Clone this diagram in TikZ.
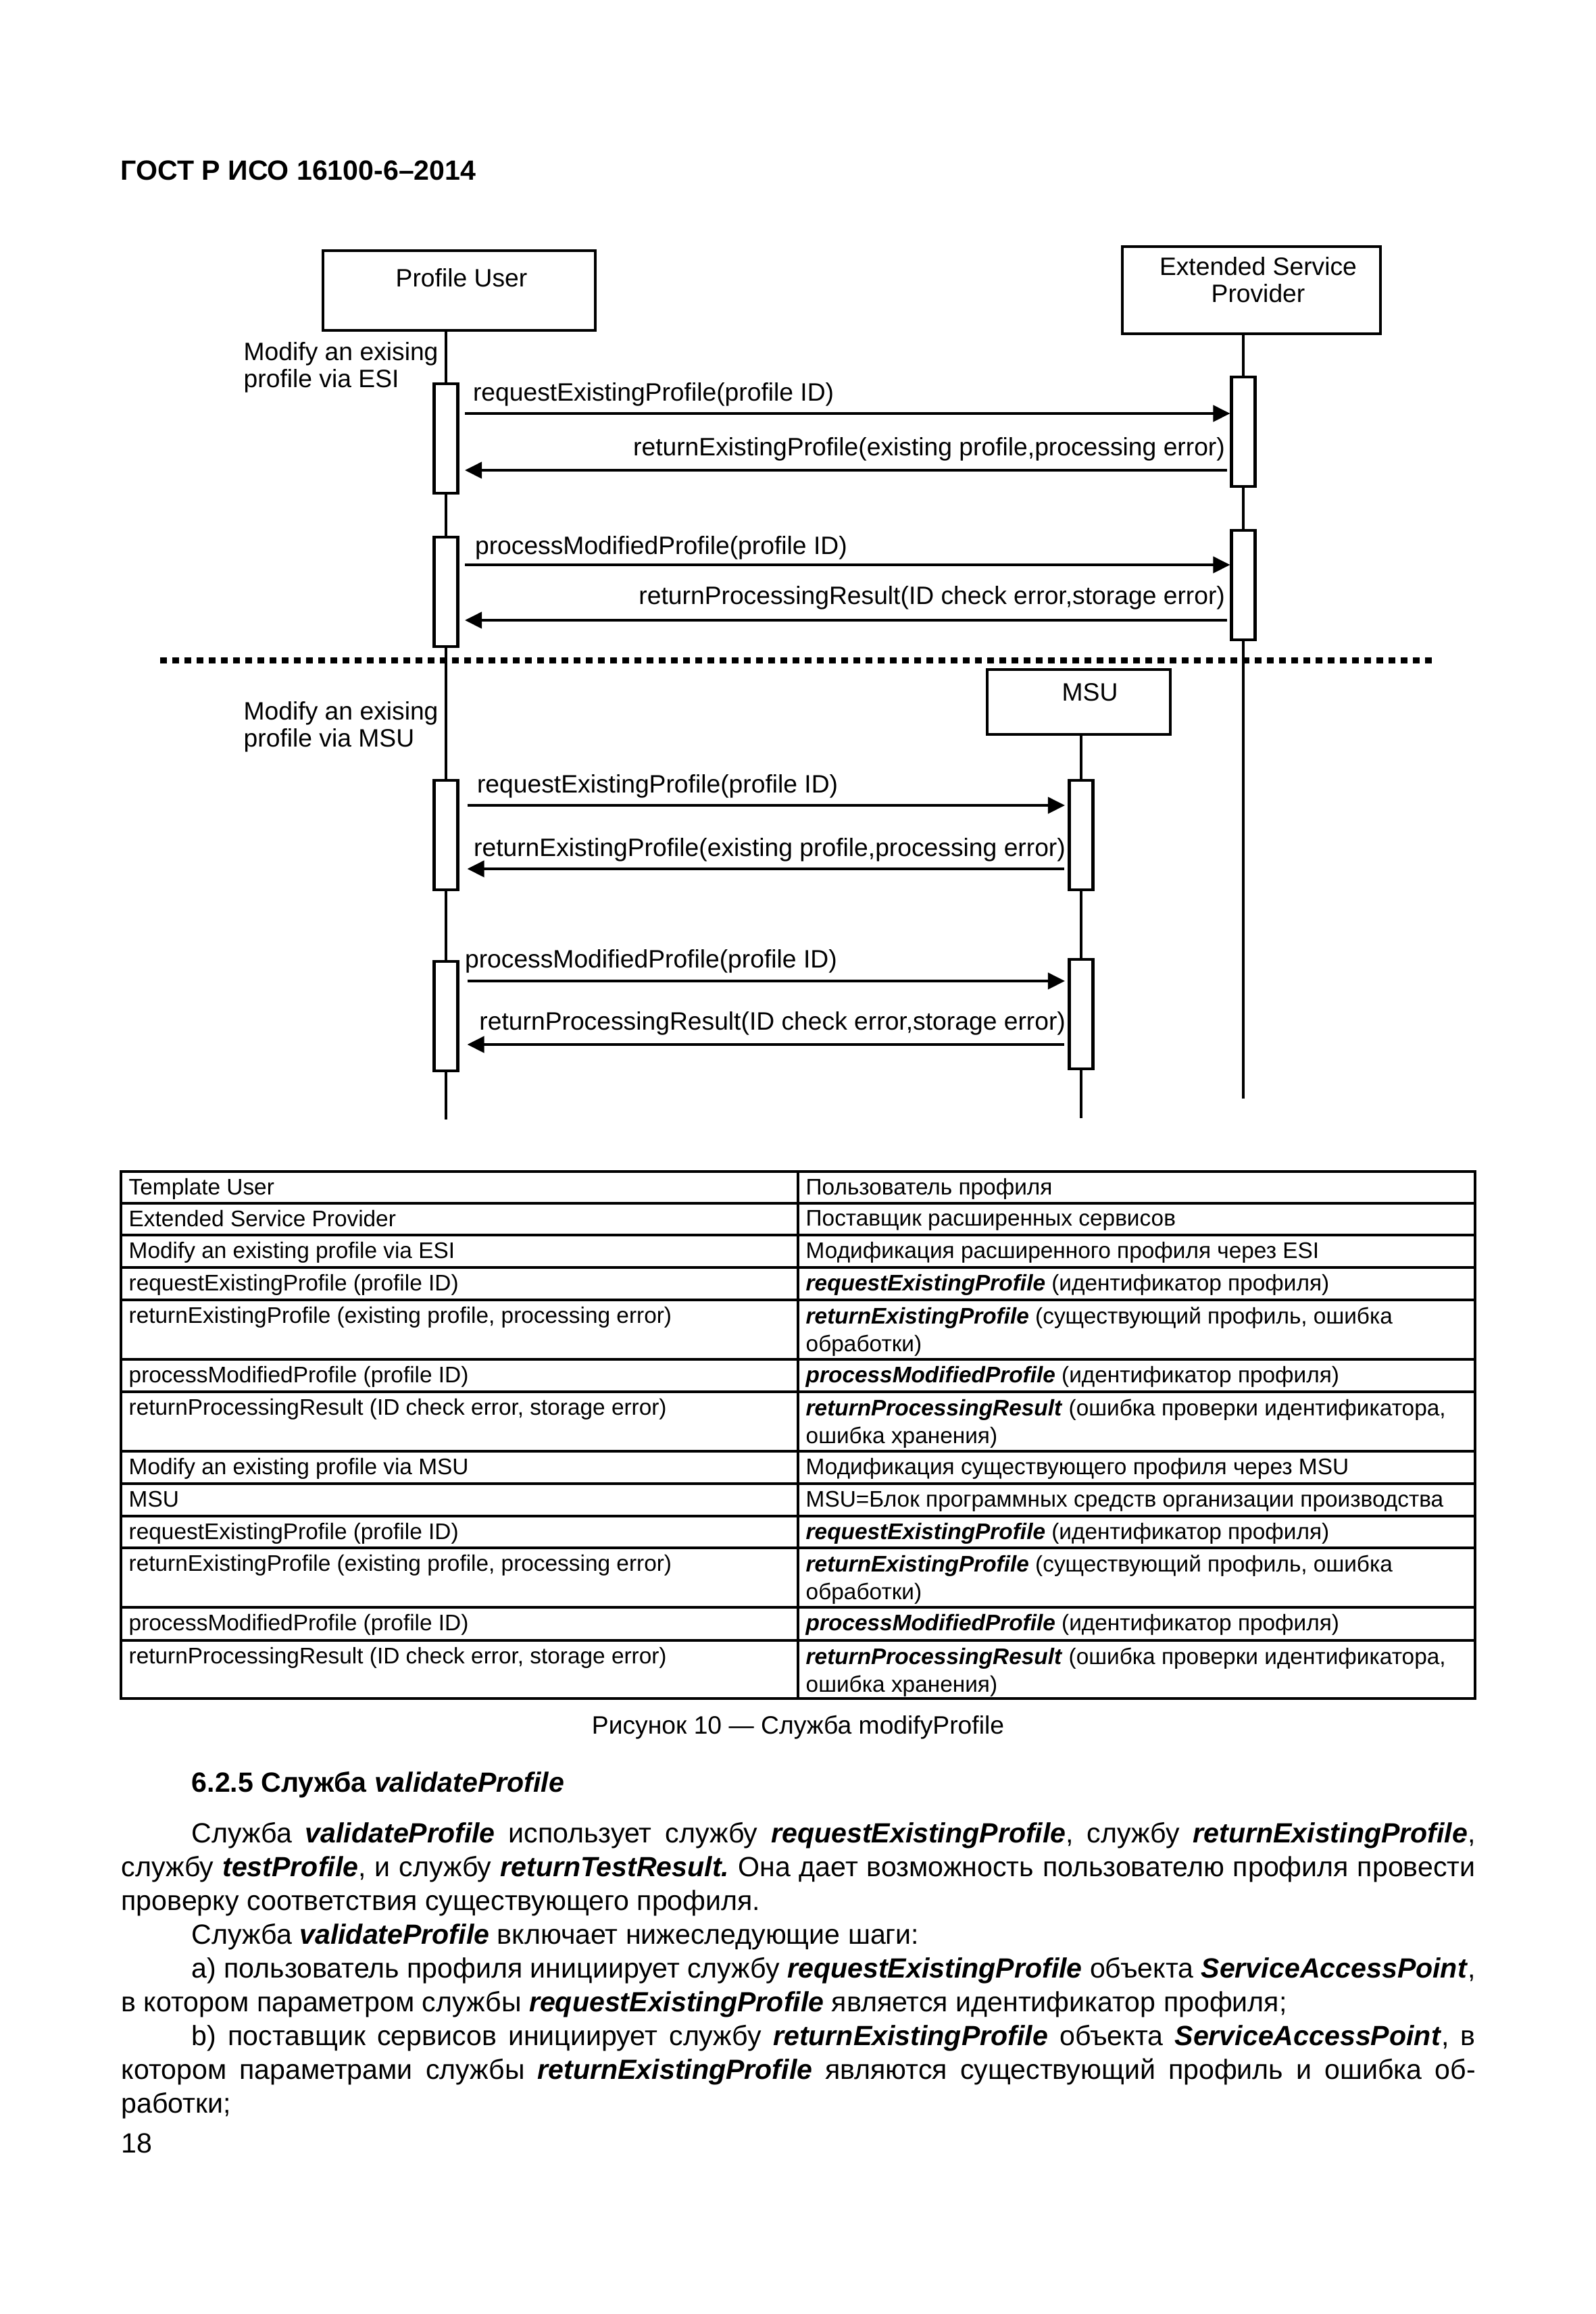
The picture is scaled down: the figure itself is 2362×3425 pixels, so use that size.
\documentclass[tikz,border=0pt]{standalone}
\usepackage{fontspec}
\setmainfont{Liberation Sans}
\frenchspacing
\usetikzlibrary{arrows.meta, positioning}
\newcommand{\hdrfont}{\fontsize{11.7}{14}\selectfont\bfseries}
\newcommand{\dgfont}{\fontsize{10.6}{11.4}\selectfont}
\newcommand{\tabfont}{\fontsize{9.5}{11.7}\selectfont}
\newcommand{\capfont}{\fontsize{10.6}{12}\selectfont}
\newcommand{\bodyfont}{\fontsize{11.7}{14.2}\selectfont}
\newcommand{\bi}[1]{\textbf{\textit{#1}}}
\newcommand{\fullline}[1]{\makebox[200.4mm][s]{#1}}
\newcommand{\indline}[1]{\makebox[190mm][s]{#1}}
\tikzset{
    actor/.style={draw, line width=1.15pt, fill=white, inner sep=0pt},
    act/.style={draw, line width=1.15pt, fill=white, inner sep=0pt,
                minimum width=3.5mm, minimum height=16.2mm, anchor=north},
    life/.style={line width=1.15pt},
    msg/.style={-{Triangle[length=2.5mm, width=2.4mm]}, line width=1.15pt},
    sepline/.style={line width=0.9mm, dash pattern=on 1mm off 0.8mm},
    lbl/.style={font=\dgfont, inner sep=0pt},
    grid/.style={line width=0.9pt},
    cell/.style={font=\tabfont, inner sep=0pt, anchor=north west, align=left},
    txt/.style={font=\bodyfont, inner sep=0pt, anchor=base west},
}

\begin{document}
\begin{tikzpicture}[x=0.1mm, y=-0.1mm]
    \fill[white] (0,0) rectangle (2362,3425);
    \path[use as bounding box] (0,0) rectangle (2362,3425);
    \node[font=\hdrfont, inner sep=0pt, anchor=base west] (hdr) at (178,266) {ГОСТ Р ИСО 16100-6–2014};

    % lifeline heads
    \node[actor, minimum width=40.3mm, minimum height=11.8mm] (pu) at (679.5,430) {};
    \node[actor, minimum width=38.2mm, minimum height=12.9mm] (esp) at (1852,429.5) {};
    \node[actor, minimum width=27.1mm, minimum height=9.6mm] (msu) at (1596.5,1039) {};
    \node[lbl, anchor=base] (pulbl) at (683,424) {Profile User};
    \node[lbl, anchor=north, align=center] (esplbl) at (1862,380) {Extended Service\\Provider};
    \node[lbl, anchor=base] (msulbl) at (1613,1037) {MSU};
    \node[lbl, anchor=north west, align=left] (esinote) at (360,506) {Modify an exising\\profile via ESI};
    \node[lbl, anchor=north west, align=left] (msunote) at (360,1038) {Modify an exising\\profile via MSU};

    \coordinate (puend) at (660,1657);
    \coordinate (espend) at (1840,1626);
    \coordinate (msuend) at (1600,1655);
    \draw[life] (pu.south -| puend) -- (puend);
    \draw[life] (esp.south -| espend) -- (espend);
    \draw[life] (msu.south -| msuend) -- (msuend);

    \coordinate (sepl) at (237,977);
    \coordinate (sepr) at (2124,977);
    \draw[sepline] (sepl) -- (sepr);

    % activations
    \node[act] (pua1) at (660,566) {};
    \node[act] (pua2) at (660,793) {};
    \node[act] (espa1) at (1840,556) {};
    \node[act] (espa2) at (1840,783) {};
    \node[act] (pua3) at (660,1153) {};
    \node[act] (msua3) at (1600,1153) {};
    \node[act] (pua4) at (660,1421) {};
    \node[act] (msua4) at (1600,1418) {};

    % messages via ESI
    \draw[msg, shorten <=0.85mm] (pua1.east |- 0,612) -- node[lbl, at start, anchor=base west, shift={(1.85mm,1.9mm)}] {requestExistingProfile(profile ID)} (espa1.west |- 0,612);
    \draw[msg, shorten <=0.45mm, shorten >=0.85mm] (espa1.west |- 0,696) -- node[lbl, at start, anchor=base east, shift={(-0.55mm,2.2mm)}] {returnExistingProfile(existing profile,processing error)} (pua1.east |- 0,696);
    \draw[msg, shorten <=0.85mm] (pua2.east |- 0,836) -- node[lbl, at start, anchor=base west, shift={(2.15mm,1.6mm)}] {processModifiedProfile(profile ID)} (espa2.west |- 0,836);
    \draw[msg, shorten <=0.45mm, shorten >=0.85mm] (espa2.west |- 0,918) -- node[lbl, at start, anchor=base east, shift={(-0.55mm,2.4mm)}] {returnProcessingResult(ID check error,storage error)} (pua2.east |- 0,918);

    % messages via MSU
    \draw[msg, shorten <=1.2mm, shorten >=0.45mm] (pua3.east |- 0,1192) -- node[lbl, at start, anchor=base west, shift={(2.45mm,1.9mm)}] {requestExistingProfile(profile ID)} (msua3.west |- 0,1192);
    \draw[msg, shorten <=0.55mm, shorten >=1.2mm] (msua3.west |- 0,1286) -- node[lbl, at start, anchor=base east, shift={(-0.15mm,1.9mm)}] {returnExistingProfile(existing profile,processing error)} (pua3.east |- 0,1286);
    \draw[msg, shorten <=1.2mm, shorten >=0.45mm] (pua4.east |- 0,1452) -- node[lbl, at start, anchor=base west, shift={(0.65mm,2mm)}] {processModifiedProfile(profile ID)} (msua4.west |- 0,1452);
    \draw[msg, shorten <=0.55mm, shorten >=1.2mm] (msua4.west |- 0,1546) -- node[lbl, at start, anchor=base east, shift={(-0.15mm,2.2mm)}] {returnProcessingResult(ID check error,storage error)} (pua4.east |- 0,1546);

    % table
    \draw[grid] (179,1734) rectangle (2183,2514) (1181,1734) -- (1181,2514)
        (179,1781) -- (2183,1781) (179,1828) -- (2183,1828) (179,1876) -- (2183,1876)
        (179,1924) -- (2183,1924) (179,2012) -- (2183,2012) (179,2060) -- (2183,2060)
        (179,2148) -- (2183,2148) (179,2196) -- (2183,2196) (179,2244) -- (2183,2244)
        (179,2291) -- (2183,2291) (179,2379) -- (2183,2379) (179,2428) -- (2183,2428);
    \node[cell] (r1a) at (190,1744) {Template User};
    \node[cell] (r1b) at (1192,1744) {Пользователь профиля};
    \node[cell] (r2a) at (190,1791) {Extended Service Provider};
    \node[cell] (r2b) at (1192,1791) {Поставщик расширенных сервисов};
    \node[cell] (r3a) at (190,1838) {Modify an existing profile via ESI};
    \node[cell] (r3b) at (1192,1838) {Модификация расширенного профиля через ESI};
    \node[cell] (r4a) at (190,1886) {requestExistingProfile (profile ID)};
    \node[cell] (r4b) at (1192,1886) {\bi{requestExistingProfile} (идентификатор профиля)};
    \node[cell] (r5a) at (190,1934) {returnExistingProfile (existing profile, processing error)};
    \node[cell] (r5b) at (1192,1934) {\bi{returnExistingProfile} (существующий профиль, ошибка\\обработки)};
    \node[cell] (r6a) at (190,2022) {processModifiedProfile (profile ID)};
    \node[cell] (r6b) at (1192,2022) {\bi{processModifiedProfile} (идентификатор профиля)};
    \node[cell] (r7a) at (190,2070) {returnProcessingResult (ID check error, storage error)};
    \node[cell] (r7b) at (1192,2070) {\bi{returnProcessingResult} (ошибка проверки идентификатора,\\ошибка хранения)};
    \node[cell] (r8a) at (190,2158) {Modify an existing profile via MSU};
    \node[cell] (r8b) at (1192,2158) {Модификация существующего профиля через MSU};
    \node[cell] (r9a) at (190,2206) {MSU};
    \node[cell] (r9b) at (1192,2206) {MSU=Блок программных средств организации производства};
    \node[cell] (r10a) at (190,2254) {requestExistingProfile (profile ID)};
    \node[cell] (r10b) at (1192,2254) {\bi{requestExistingProfile} (идентификатор профиля)};
    \node[cell] (r11a) at (190,2301) {returnExistingProfile (existing profile, processing error)};
    \node[cell] (r11b) at (1192,2301) {\bi{returnExistingProfile} (существующий профиль, ошибка\\обработки)};
    \node[cell] (r12a) at (190,2389) {processModifiedProfile (profile ID)};
    \node[cell] (r12b) at (1192,2389) {\bi{processModifiedProfile} (идентификатор профиля)};
    \node[cell] (r13a) at (190,2438) {returnProcessingResult (ID check error, storage error)};
    \node[cell] (r13b) at (1192,2438) {\bi{returnProcessingResult} (ошибка проверки идентификатора,\\ошибка хранения)};

    \node[font=\capfont, inner sep=0pt, anchor=base] (cap) at (1181,2566) {Рисунок 10 — Служба modifyProfile};

    % section text
    \node[txt] (head) at (283,2652) {\textbf{6.2.5 Служба \textit{validateProfile}}};
    \node[txt] (b1) at (283,2727) {\indline{Служба \bi{validateProfile} использует службу \bi{requestExistingProfile}, службу \bi{returnExistingProfile},}};
    \node[txt] (b2) at (179,2777) {\fullline{службу \bi{testProfile}, и службу \bi{returnTestResult.} Она дает возможность пользователю профиля провести}};
    \node[txt] (b3) at (179,2827) {проверку соответствия существующего профиля.};
    \node[txt] (b4) at (283,2877) {Служба \bi{validateProfile} включает нижеследующие шаги:};
    \node[txt] (b5) at (283,2927) {\indline{а) пользователь профиля инициирует службу \bi{requestExistingProfile} объекта \bi{ServiceAccessPoint},}};
    \node[txt] (b6) at (179,2977) {в котором параметром службы \bi{requestExistingProfile} является идентификатор профиля;};
    \node[txt] (b7) at (283,3027) {\indline{b) поставщик сервисов инициирует службу \bi{returnExistingProfile} объекта \bi{ServiceAccessPoint}, в}};
    \node[txt] (b8) at (179,3077) {\fullline{котором параметрами службы \bi{returnExistingProfile} являются существующий профиль и ошибка об-}};
    \node[txt] (b9) at (179,3127) {работки;};
    \node[txt] (pgno) at (179,3186) {18};
\end{tikzpicture}
\end{document}
